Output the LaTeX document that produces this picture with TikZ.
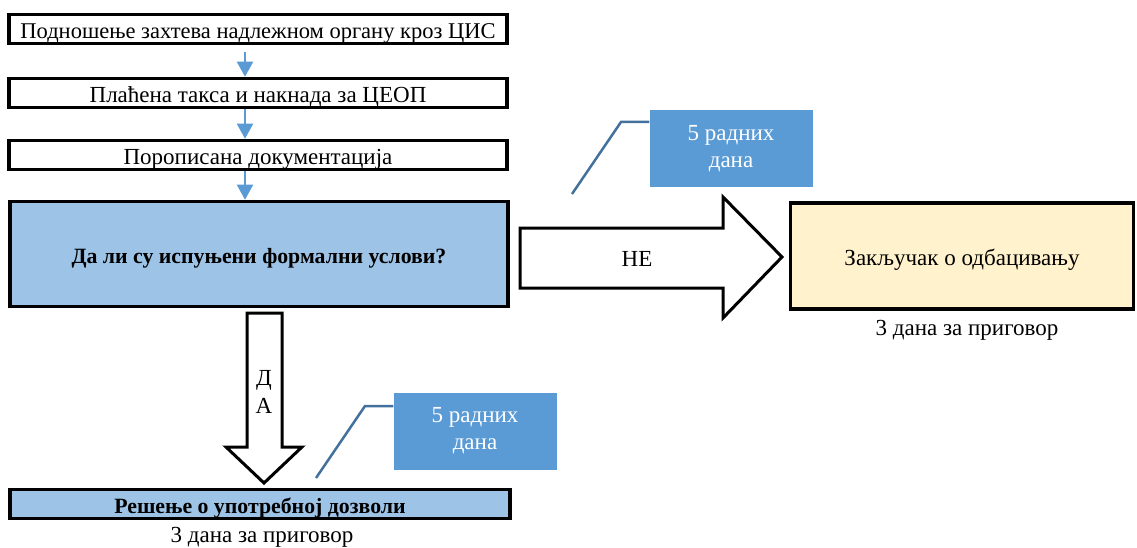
\documentclass[tikz,border=0pt]{standalone}
\usepackage{fontspec}
\setmainfont{Liberation Serif}
\usetikzlibrary{arrows.meta}
\definecolor{boxblue}{HTML}{9DC3E6}
\definecolor{noteblue}{HTML}{5B9BD5}
\definecolor{leaderblue}{HTML}{41719C}
\definecolor{paleyellow}{HTML}{FFF2CC}
\begin{document}
\begin{tikzpicture}[x=1pt, y=-1pt,
    txt/.style={font=\fontsize{23}{27}\selectfont},
    stepbox/.style={draw, line width=3.5pt, inner sep=0pt, minimum width=498pt, minimum height=29pt, text height=20pt, text depth=1pt, txt},
    boldbox/.style={stepbox, fill=boxblue, font=\fontsize{21.8}{26}\selectfont\bfseries},
    notebox/.style={fill=noteblue, text=white, inner sep=0pt, minimum width=163pt, minimum height=77pt, align=center, txt},
    flow/.style={noteblue, line width=2pt, -{Triangle[width=16pt,length=15pt]}},
    bigarrow/.style={draw, line width=3pt, fill=white, line join=miter},
    leader/.style={leaderblue, line width=2.5pt}]
    \useasboundingbox (0,0) rectangle (1137,548);
    % Koraci
    \node[stepbox, font=\fontsize{22.5}{26}\selectfont] (podnosenje) at (258,29) {Подношење захтева надлежном органу кроз ЦИС};
    \node[stepbox] (taksa) at (258,93) {Плаћена такса и накнада за ЦЕОП};
    \node[stepbox] (dokumentacija) at (258,155) {Порописана документација};
    \node[boldbox, minimum height=105pt] (uslovi) at (259,254) {Да ли су испуњени формални услови?};
    \node[stepbox, fill=paleyellow, minimum width=343pt, minimum height=106pt] (odbacivanje) at (962,256) {Закључак о одбацивању};
    \node[txt] (rok1) at (967,330) {3 дана за приговор};
    \node[boldbox, minimum width=500pt] (resenje) at (260,504) {Решење о употребној дозволи};
    \node[txt] (rok2) at (262,537) {3 дана за приговор};
    \coordinate (ax) at (245,0);
    \draw[flow] (podnosenje.south -| ax) ++(0,7) -- (taksa.north -| ax);
    \draw[flow] (taksa.south -| ax) -- (dokumentacija.north -| ax);
    \draw[flow] (dokumentacija.south -| ax) -- (uslovi.north -| ax);
    % NE
    \draw[bigarrow] (520,228) -- (723,228) -- (723,197) -- (782,257) -- (723,318) -- (723,288) -- (520,288) -- cycle;
    \node[txt] (ne) at (637,259) {НЕ};
    % DA
    \draw[bigarrow] (247,313) -- (247,447) -- (226,447) -- (264,483) -- (302,447) -- (282,447) -- (282,313) -- cycle;
    \node[txt, align=center] (da) at (264,392) {Д\\[1pt]А};
    % Rokovi
    \node[notebox] (rad1) at (731,149) {5 радних\\дана};
    \node[notebox] (rad2) at (475,431) {5 радних\\дана};
    \draw[leader] (572,194) -- (621,122) -- (rad1.west |- 0,122);
    \draw[leader] (316,478) -- (365,406) -- (rad2.west |- 0,406);
\end{tikzpicture}
\end{document}
